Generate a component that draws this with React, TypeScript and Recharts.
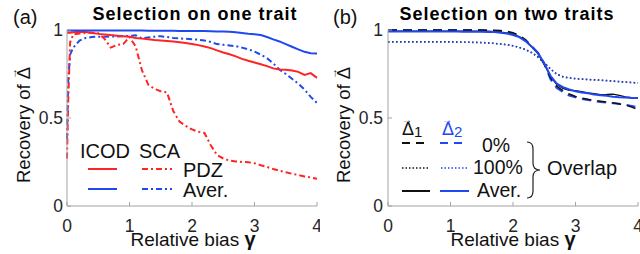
import React from "react";
import { LineChart, Line, XAxis, YAxis } from "recharts";

const FONT = "'Liberation Sans', Arial, Helvetica, sans-serif";
const RED = "#ff2424";
const BLUE = "#2048f0";
const BLACK = "#111111";
const FRAME = "#a3a3a3";
const TICKCOL = "#262626";

const xTicks = [0, 1, 2, 3, 4];
const yTicks = [0, 0.5, 1];

// Panel (a): selection on one trait
const gammaA = [0, 0.02, 0.05, 0.1, 0.2, 0.3, 0.4, 0.5, 0.6, 0.7, 0.8, 0.9, 1.0, 1.1, 1.2, 1.3, 1.4, 1.5, 1.6, 1.7, 1.8, 1.9, 2.0, 2.1, 2.2, 2.3, 2.4, 2.5, 2.6, 2.7, 2.8, 2.9, 3.0, 3.1, 3.2, 3.3, 3.4, 3.5, 3.6, 3.7, 3.8, 3.9, 4.0];
const icodPdz = [0.985, 0.985, 0.985, 0.987, 0.99, 0.988, 0.983, 0.978, 0.975, 0.971, 0.968, 0.965, 0.961, 0.955, 0.951, 0.947, 0.943, 0.94, 0.937, 0.934, 0.93, 0.926, 0.921, 0.914, 0.906, 0.897, 0.884, 0.872, 0.862, 0.85, 0.836, 0.825, 0.815, 0.805, 0.795, 0.782, 0.776, 0.774, 0.77, 0.762, 0.745, 0.755, 0.728];
const icodAver = [0.997, 0.997, 0.997, 0.997, 0.997, 0.997, 0.997, 0.997, 0.997, 0.997, 0.997, 0.997, 0.997, 0.997, 0.997, 0.996, 0.996, 0.996, 0.996, 0.996, 0.995, 0.995, 0.995, 0.994, 0.994, 0.993, 0.992, 0.991, 0.99, 0.987, 0.983, 0.979, 0.976, 0.972, 0.96, 0.947, 0.935, 0.92, 0.905, 0.89, 0.876, 0.868, 0.866];
const scaPdz = [0.27, 0.6, 0.93, 0.975, 0.98, 0.983, 0.985, 0.982, 0.95, 0.9, 0.915, 0.92, 0.96, 0.905, 0.77, 0.69, 0.665, 0.652, 0.645, 0.54, 0.48, 0.455, 0.435, 0.422, 0.415, 0.345, 0.29, 0.27, 0.258, 0.253, 0.25, 0.249, 0.243, 0.232, 0.222, 0.21, 0.2, 0.192, 0.183, 0.176, 0.168, 0.162, 0.155];
const scaAver = [0.38, 0.72, 0.86, 0.9, 0.94, 0.955, 0.96, 0.962, 0.962, 0.963, 0.963, 0.964, 0.967, 0.97, 0.952, 0.957, 0.962, 0.965, 0.96, 0.955, 0.952, 0.95, 0.948, 0.945, 0.94, 0.932, 0.92, 0.916, 0.912, 0.908, 0.9, 0.89, 0.878, 0.86, 0.84, 0.81, 0.775, 0.75, 0.723, 0.695, 0.662, 0.62, 0.585];

// Panel (b): selection on two traits
const gammaB = [0, 0.1, 0.2, 0.3, 0.4, 0.5, 0.6, 0.7, 0.8, 0.9, 1.0, 1.1, 1.2, 1.3, 1.4, 1.5, 1.6, 1.7, 1.8, 1.9, 2.0, 2.1, 2.2, 2.3, 2.4, 2.5, 2.6, 2.7, 2.8, 2.9, 3.0, 3.1, 3.2, 3.3, 3.4, 3.5, 3.6, 3.7, 3.8, 3.9, 4.0];
const d1Zero = [1.0, 1.0, 1.0, 1.0, 1.0, 1.0, 1.0, 1.0, 1.0, 1.0, 1.0, 1.0, 1.0, 1.0, 1.0, 1.0, 0.999, 0.998, 0.997, 0.993, 0.985, 0.97, 0.945, 0.91, 0.87, 0.805, 0.73, 0.68, 0.655, 0.636, 0.622, 0.613, 0.606, 0.6, 0.595, 0.59, 0.586, 0.58, 0.574, 0.562, 0.548];
const d2Zero = [0.998, 0.998, 0.998, 0.998, 0.998, 0.998, 0.998, 0.998, 0.998, 0.998, 0.998, 0.998, 0.998, 0.998, 0.998, 0.998, 0.997, 0.995, 0.992, 0.987, 0.979, 0.965, 0.94, 0.905, 0.87, 0.81, 0.72, 0.67, 0.648, 0.628, 0.617, 0.608, 0.602, 0.596, 0.591, 0.588, 0.584, 0.581, 0.576, 0.568, 0.56];
const d1Full = [0.933, 0.933, 0.933, 0.933, 0.933, 0.933, 0.933, 0.933, 0.933, 0.933, 0.933, 0.932, 0.931, 0.931, 0.93, 0.929, 0.927, 0.924, 0.921, 0.917, 0.911, 0.902, 0.889, 0.872, 0.847, 0.814, 0.779, 0.75, 0.735, 0.728, 0.724, 0.721, 0.719, 0.717, 0.715, 0.713, 0.71, 0.707, 0.704, 0.702, 0.7];
const d2Full = [0.932, 0.932, 0.932, 0.932, 0.932, 0.932, 0.932, 0.932, 0.932, 0.932, 0.932, 0.931, 0.93, 0.93, 0.929, 0.928, 0.926, 0.923, 0.92, 0.916, 0.91, 0.9, 0.887, 0.87, 0.845, 0.812, 0.778, 0.748, 0.733, 0.727, 0.723, 0.72, 0.718, 0.716, 0.714, 0.712, 0.709, 0.706, 0.703, 0.701, 0.699];
const d1Aver = [0.994, 0.994, 0.994, 0.994, 0.994, 0.994, 0.994, 0.994, 0.994, 0.994, 0.994, 0.994, 0.994, 0.994, 0.994, 0.994, 0.993, 0.991, 0.988, 0.983, 0.975, 0.962, 0.94, 0.905, 0.865, 0.805, 0.735, 0.69, 0.668, 0.657, 0.655, 0.65, 0.643, 0.638, 0.633, 0.634, 0.636, 0.629, 0.62, 0.615, 0.613];
const d2Aver = [0.991, 0.991, 0.991, 0.991, 0.991, 0.991, 0.991, 0.991, 0.991, 0.991, 0.991, 0.991, 0.99, 0.99, 0.99, 0.99, 0.989, 0.988, 0.985, 0.98, 0.972, 0.96, 0.937, 0.905, 0.87, 0.81, 0.74, 0.695, 0.675, 0.662, 0.652, 0.645, 0.64, 0.633, 0.629, 0.626, 0.621, 0.618, 0.616, 0.614, 0.613];

const dataA = gammaA.map((g, i) => ({ g, icodPdz: icodPdz[i], icodAver: icodAver[i], scaPdz: scaPdz[i], scaAver: scaAver[i] }));
const dataB = gammaB.map((g, i) => ({ g, d1Zero: d1Zero[i], d2Zero: d2Zero[i], d1Full: d1Full[i], d2Full: d2Full[i], d1Aver: d1Aver[i], d2Aver: d2Aver[i] }));

const tickStyle = { fill: TICKCOL, fontSize: 17.5, fontFamily: FONT };

function frameAxes(leftWidth: number, yMargin: number) {
  return [
    <XAxis key="xb" dataKey="g" type="number" domain={[0, 4]} ticks={xTicks} interval={0}
      tickSize={-4} tickMargin={18} height={48} stroke={FRAME} tick={tickStyle} />,
    <XAxis key="xt" xAxisId="top" orientation="top" dataKey="g" type="number" domain={[0, 4]} ticks={xTicks}
      interval={0} tickSize={-4} height={0} stroke={FRAME} tick={false} />,
    <YAxis key="yl" type="number" domain={[0, 1]} ticks={yTicks} interval={0} tickSize={-4}
      tickMargin={yMargin} width={leftWidth} stroke={FRAME} tick={tickStyle} />,
    <YAxis key="yr" yAxisId="right" orientation="right" type="number" domain={[0, 1]} ticks={yTicks}
      interval={0} tickSize={-4} width={0} stroke={FRAME} tick={false} />,
  ];
}

const arrowTspan = (dx: number, dy: number, size: number) => (
  <tspan dx={dx} dy={dy} fontSize={size}>→</tspan>
);

export default function App() {
  return (
    <div style={{ position: "absolute", left: 0, top: 0, width: 640, height: 254, background: "#fff", fontFamily: FONT }}>
      <div style={{ position: "absolute", left: 0, top: 0 }}>
        <LineChart width={320} height={254} data={dataA} margin={{ top: 30, right: 3, bottom: 0, left: 0 }}>
          {frameAxes(67, 8)}
          <Line dataKey="scaAver" stroke={BLUE} strokeWidth={2} strokeDasharray="6 3 2 3" dot={false} isAnimationActive={false} />
          <Line dataKey="scaPdz" stroke={RED} strokeWidth={2} strokeDasharray="6 3 2 3" dot={false} isAnimationActive={false} />
          <Line dataKey="icodPdz" stroke={RED} strokeWidth={2} dot={false} isAnimationActive={false} />
          <Line dataKey="icodAver" xAxisId="top" yAxisId="right" stroke={BLUE} strokeWidth={2} dot={false} isAnimationActive={false} />
        </LineChart>
      </div>
      <div style={{ position: "absolute", left: 320, top: 0 }}>
        <LineChart width={320} height={254} data={dataB} margin={{ top: 30, right: 2, bottom: 0, left: 0 }}>
          {frameAxes(68, 9)}
          <Line dataKey="d1Full" stroke={BLACK} strokeWidth={1.5} strokeDasharray="1.5 2.5" dot={false} isAnimationActive={false} />
          <Line dataKey="d2Full" stroke={BLUE} strokeWidth={1.5} strokeDasharray="1.5 2.5" dot={false} isAnimationActive={false} />
          <Line dataKey="d2Zero" stroke={BLUE} strokeWidth={2} strokeDasharray="9 6" dot={false} isAnimationActive={false} />
          <Line dataKey="d1Zero" stroke={BLACK} strokeWidth={1.5} strokeDasharray="9 6" dot={false} isAnimationActive={false} />
          <Line dataKey="d1Aver" stroke={BLACK} strokeWidth={1.3} dot={false} isAnimationActive={false} />
          <Line dataKey="d2Aver" xAxisId="top" yAxisId="right" stroke={BLUE} strokeWidth={2} dot={false} isAnimationActive={false} />
        </LineChart>
      </div>
      <svg width={640} height={254} style={{ position: "absolute", left: 0, top: 0, pointerEvents: "none" }} fontFamily={FONT}>
        {/* Panel (a) texts */}
        <text x={13} y={24} fontSize={20} fill="#111">(a)</text>
        <text x={195} y={20} fontSize={18} letterSpacing={1} fontWeight="bold" textAnchor="middle" fill="#000">Selection on one trait</text>
        <text transform="translate(30,183) rotate(-90)" fontSize={18.5} fill="#111">
          Recovery of Δ{arrowTspan(-12, -13, 11)}
        </text>
        <text x={193} y={246} fontSize={19} textAnchor="middle" fill="#111">
          Relative bias <tspan fontWeight="bold" fontSize={20}>γ</tspan>
        </text>
        {/* Panel (a) legend */}
        <text x={80} y={158} fontSize={20} fill="#111">ICOD</text>
        <text x={139} y={158} fontSize={20} fill="#111">SCA</text>
        <line x1={88} y1={169} x2={117} y2={169} stroke={RED} strokeWidth={2} />
        <line x1={142} y1={169} x2={172} y2={169} stroke={RED} strokeWidth={2} strokeDasharray="6 3 2 3" />
        <text x={183} y={177} fontSize={20} fill="#111">PDZ</text>
        <line x1={88} y1={189} x2={117} y2={189} stroke={BLUE} strokeWidth={2} />
        <line x1={142} y1={189} x2={172} y2={189} stroke={BLUE} strokeWidth={2} strokeDasharray="6 3 2 3" />
        <text x={183} y={197} fontSize={20} fill="#111">Aver.</text>

        {/* Panel (b) texts */}
        <text x={333} y={24} fontSize={20} fill="#111">(b)</text>
        <text x={507} y={20} fontSize={18} letterSpacing={1} fontWeight="bold" textAnchor="middle" fill="#000">Selection on two traits</text>
        <text transform="translate(350,183) rotate(-90)" fontSize={18.5} fill="#111">
          Recovery of Δ{arrowTspan(-12, -13, 11)}
        </text>
        <text x={513} y={246} fontSize={19} textAnchor="middle" fill="#111">
          Relative bias <tspan fontWeight="bold" fontSize={20}>γ</tspan>
        </text>
        {/* Panel (b) legend */}
        <text x={402} y={135} fontSize={18} fill={BLACK}>Δ{arrowTspan(-12, -12, 10)}<tspan dx={2} dy={14} fontSize={15}>1</tspan></text>
        <text x={442} y={135} fontSize={18} fill={BLUE}>Δ{arrowTspan(-12, -12, 10)}<tspan dx={2} dy={14} fontSize={15}>2</tspan></text>
        <line x1={402} y1={143} x2={426} y2={143} stroke={BLACK} strokeWidth={2} strokeDasharray="8 6" />
        <line x1={440} y1={143} x2={464} y2={143} stroke={BLUE} strokeWidth={2} strokeDasharray="8 6" />
        <text x={482} y={151.5} fontSize={19.5} fill="#111">0%</text>
        <line x1={402} y1={168} x2={429} y2={168} stroke={BLACK} strokeWidth={1.5} strokeDasharray="1.5 2" />
        <line x1={441} y1={168} x2={469} y2={168} stroke={BLUE} strokeWidth={1.5} strokeDasharray="1.5 2" />
        <text x={473} y={174} fontSize={19.5} fill="#111">100%</text>
        <line x1={402} y1={191} x2={430} y2={191} stroke={BLACK} strokeWidth={2} />
        <line x1={440} y1={191} x2={469} y2={191} stroke={BLUE} strokeWidth={2} />
        <text x={477} y={196.5} fontSize={19.5} fill="#111">Aver.</text>
        <path d="M527,142 Q533,142 533,149 L533,163 Q533,170 540,170 Q533,170 533,177 L533,191 Q533,198 527,198"
          fill="none" stroke="#222" strokeWidth={1.2} />
        <text x={547} y={175} fontSize={20} fill="#111">Overlap</text>
      </svg>
    </div>
  );
}
